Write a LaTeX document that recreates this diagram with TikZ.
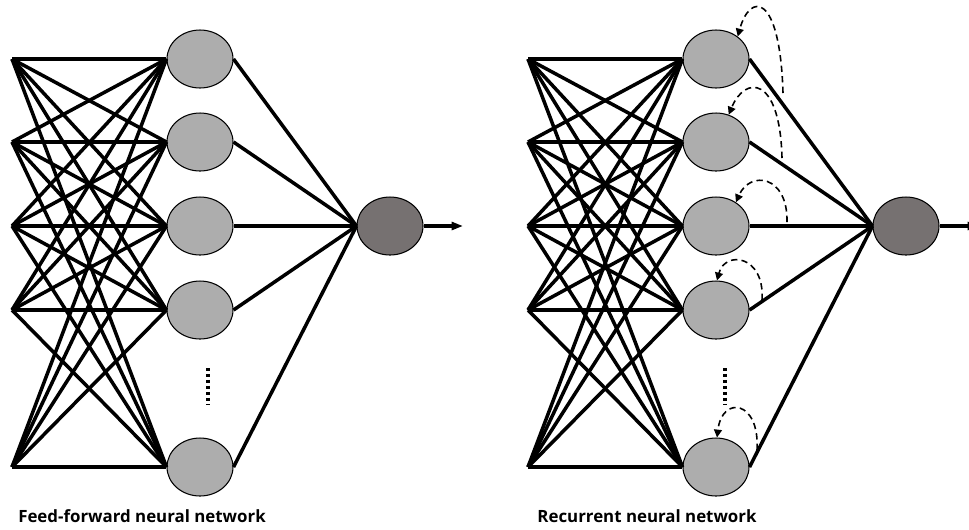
\documentclass[tikz,border=0pt]{standalone}
\usepackage{fontspec}
\setmainfont{Open Sans}
\usetikzlibrary{arrows.meta,shapes.geometric,calc}
\definecolor{hidgray}{HTML}{ADADAD}
\definecolor{outgray}{HTML}{767171}
\tikzset{
    hidden/.style={ellipse,draw,line width=0.6pt,fill=hidgray,minimum width=1.32cm,minimum height=1.16cm,inner sep=0pt},
    outunit/.style={hidden,fill=outgray},
    link/.style={line width=2pt},
    recur/.style={line width=0.9pt,dash pattern=on 3.6pt off 2.4pt,-{Triangle[length=4.5pt,width=4.5pt]}},
    vdots/.style={line width=2.3pt,dash pattern=on 1.7pt off 1.7pt},
    title/.style={font=\bfseries\fontsize{9.6}{11}\selectfont}
}

\begin{document}
\begin{tikzpicture}[x=0.02cm,y=-0.02cm]
    \useasboundingbox (0,0) rectangle (969,529);

    % feed-forward network
    \foreach \n/\y in {1/59,2/142,3/226,4/310,5/467}{
        \coordinate (a\n) at (12,\y);
        \node[hidden] (h\n) at (200,\y) {};
    }
    \node[outunit] (o) at (390,226) {};
    \coordinate (oend) at (463,226);

    \foreach \i in {1,...,5}
        \foreach \j in {1,...,5}
            \draw[link] (a\i) -- (h\j.west);
    \foreach \j in {1,...,5}
        \draw[link] (h\j.east) -- (o.west);
    \draw[link,-{Triangle[length=6.5pt,width=4.5pt]}] (o.east) -- (oend);
    \draw[vdots] (208,368) -- (208,405);

    % recurrent network
    \foreach \n/\y in {1/59,2/142,3/226,4/310,5/467}{
        \coordinate (b\n) at (528,\y);
        \node[hidden] (r\n) at (716,\y) {};
    }
    \node[outunit] (q) at (906,226) {};
    \coordinate (qend) at (979,226);

    \foreach \i in {1,...,5}
        \foreach \j in {1,...,5}
            \draw[link] (b\i) -- (r\j.west);
    \foreach \j in {1,...,5}
        \draw[link] (r\j.east) -- (q.west);
    \draw[link,-{Triangle[length=6.5pt,width=4.5pt]}] (q.east) -- (qend);
    \draw[vdots] (725,368) -- (725,405);

    % self feedback
    \coordinate (s1) at (783,93);
    \coordinate (s2) at (782,158);
    \coordinate (s3) at (787,222);
    \coordinate (s4) at (762,300);
    \coordinate (s5) at (757,450);
    \draw[recur] (s1) .. controls (780,-8) and (750,-8) .. (r1.46);
    \draw[recur] (s2) .. controls (780,75) and (745,75) .. (r2.65);
    \draw[recur] (s3) .. controls (788,175) and (750,170) .. (r3.50);
    \draw[recur] (s4) .. controls (765,255) and (725,250) .. (r4.88);
    \draw[recur] (s5) .. controls (760,400) and (722,395) .. (r5.88);

    \node[title] (fflabel) at (142,516) {Feed-forward neural network};
    \node[title] (rnnlabel) at (647,516) {Recurrent neural network};
\end{tikzpicture}
\end{document}
